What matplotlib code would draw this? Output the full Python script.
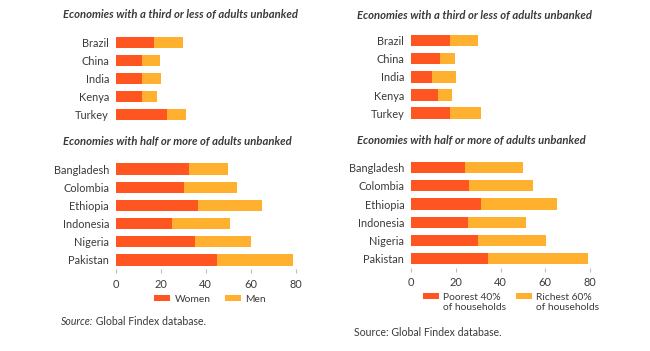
import matplotlib.pyplot as plt
from matplotlib.patches import Rectangle
from matplotlib.legend_handler import HandlerPatch

plt.rcParams['font.family'] = ['Lato', 'DejaVu Sans']

top_countries = ["Brazil", "China", "India", "Kenya", "Turkey"]
bottom_countries = ["Bangladesh", "Colombia", "Ethiopia", "Indonesia", "Nigeria", "Pakistan"]

# left: gender split (share of unbanked adults, stacked)
women_top = [17.0, 11.6, 11.6, 11.7, 22.8]
men_top = [12.8, 8.0, 8.3, 6.5, 8.4]
women_bottom = [32.4, 30.4, 36.5, 24.9, 35.4, 45.0]
men_bottom = [17.6, 23.7, 28.7, 26.1, 24.7, 33.7]

# right: income split
poor_top = [17.3, 12.8, 9.1, 11.8, 17.3]
rich_top = [12.6, 6.9, 11.0, 6.6, 14.0]
poor_bottom = [23.9, 25.8, 31.1, 25.4, 30.0, 34.3]
rich_bottom = [26.1, 28.5, 34.3, 25.8, 30.3, 44.6]

xticks = [0, 20, 40, 60, 80]

C1 = "#ff5521"
C2 = "#ffb02e"
TXT = "#3a3a3a"
FS = 7.9

W, H = 650, 351
fig = plt.figure(figsize=(6.5, 3.51), dpi=100)


def add_ax(x0, x1, top, bottom):
    return fig.add_axes([x0 / W, 1 - bottom / H, (x1 - x0) / W, (bottom - top) / H])


def draw(ax, cats, a, b, show_x):
    ax.barh(cats, a, height=0.62, color=C1)
    ax.barh(cats, b, left=a, height=0.62, color=C2)
    ax.set_xlim(0, 80)
    ax.set_ylim(len(cats) - 0.5, -0.5)
    for s in ax.spines.values():
        s.set_visible(False)
    ax.tick_params(axis="y", length=0, labelsize=FS, labelcolor=TXT, pad=5)
    if show_x:
        ax.set_xticks(xticks)
        ax.tick_params(axis="x", length=3, color="#bbbbbb", labelsize=FS,
                       labelcolor=TXT, pad=4)
    else:
        ax.set_xticks([])


# left panels
ax1 = add_ax(116, 295.5, 33.3, 123.3)
draw(ax1, top_countries, women_top, men_top, False)
ax2 = add_ax(116, 295.5, 159.9, 269.1)
draw(ax2, bottom_countries, women_bottom, men_bottom, True)

# right panels
ax3 = add_ax(411.3, 590, 31.8, 122.1)
draw(ax3, top_countries, poor_top, rich_top, False)
ax4 = add_ax(411.3, 590, 158.6, 267.6)
draw(ax4, bottom_countries, poor_bottom, rich_bottom, True)

title_kw = dict(fontsize=8.1, fontweight="bold", fontstyle="italic", color=TXT,
                va="center", ha="left")
fig.text(62.7 / W, 1 - 14.7 / H, "Economies with a third or less of adults unbanked", **title_kw)
fig.text(62.7 / W, 1 - 141.7 / H, "Economies with half or more of adults unbanked", **title_kw)
fig.text(357.3 / W, 1 - 15 / H, "Economies with a third or less of adults unbanked", **title_kw)
fig.text(357.3 / W, 1 - 140.7 / H, "Economies with half or more of adults unbanked", **title_kw)


def top_patch(legend, orig_handle, xdescent, ydescent, width, height, fontsize):
    # put the swatch beside the first line of a two-line label
    return Rectangle((-xdescent, -ydescent + 0.62 * fontsize), width, height)


# legends
leg_kw = dict(frameon=False, fontsize=7.4, labelcolor=TXT, handlelength=1.55,
              handleheight=0.6, handletextpad=0.45, loc="center left",
              bbox_transform=fig.transFigure, borderpad=0, borderaxespad=0)
ax2.legend([c.patches[0] for c in ax2.containers], ["Women", "Men"], ncol=2,
           columnspacing=1.4, bbox_to_anchor=(154 / W, 1 - 299.2 / H), **leg_kw)
leg = ax4.legend([c.patches[0] for c in ax4.containers],
                 ["Poorest 40%\nof households", "Richest 60%\nof households"],
                 ncol=2, columnspacing=0.9,
                 handler_map={Rectangle: HandlerPatch(patch_func=top_patch)},
                 bbox_to_anchor=(422.7 / W, 1 - 302.5 / H), **leg_kw)
for t in leg.get_texts():
    t.set_linespacing(1.05)

# sources
SFS = 7.6
s1 = fig.text(61 / W, 1 - 321.7 / H, "Source:", fontsize=SFS, fontstyle="italic",
              color=TXT, va="center", ha="left")
ax2.annotate(" Global Findex database.", xy=(1, 0.5), xycoords=s1, va="center",
             ha="left", fontsize=SFS, color=TXT, annotation_clip=False)
fig.text(354.3 / W, 1 - 332.7 / H, "Source: Global Findex database.", fontsize=SFS,
         color=TXT, va="center", ha="left")

fig.savefig("out.png", dpi=100, facecolor="white")
